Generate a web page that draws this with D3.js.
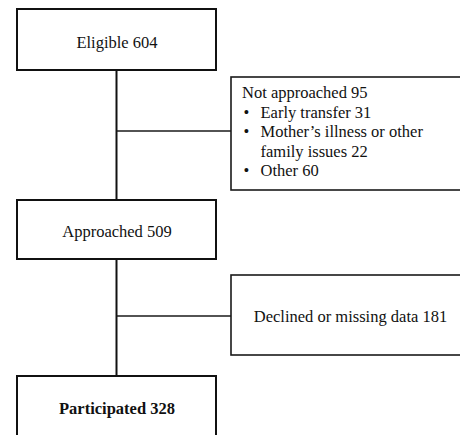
<!DOCTYPE html>
<html>
<head>
<meta charset="utf-8">
<script src="https://cdn.jsdelivr.net/npm/d3@7/dist/d3.min.js"></script>
<style>
  html, body { margin: 0; padding: 0; background: #fff; }
  svg { display: block; }
</style>
</head>
<body>
<script>
// ---- Data ----
const stageLabels = ["Eligible", "Approached", "Participated"];
const stageCounts = [604, 509, 328];
const exclusionLabels = ["Not approached", "Declined or missing data"];
const exclusionCounts = [95, 181];
const reasonLabels = ["Early transfer", "Mother’s illness or other family issues", "Other"];
const reasonCounts = [31, 22, 60];

// ---- Layout ----
const W = 460, H = 435;
const font = "'Liberation Serif', 'Times New Roman', Times, serif";
const fs = 16.5;

const svg = d3.select("body").append("svg").attr("width", W).attr("height", H);

// x positions of the two columns
const xCol = d3.scaleOrdinal().domain(["main", "side"]).range([17, 231]);
const mainW = 199;
const spineX = xCol("main") + mainW / 2;

// stage boxes geometry (top, bottom, text baseline)
const stageTop = d3.scaleOrdinal().domain(stageLabels).range([9, 200, 376]);
const stageBottom = d3.scaleOrdinal().domain(stageLabels).range([70, 259, 440]);
const stageBase = d3.scaleOrdinal().domain(stageLabels).range([48, 237, 414]);

// exclusion boxes
const exTop = d3.scaleOrdinal().domain(exclusionLabels).range([77, 275]);
const exBottom = d3.scaleOrdinal().domain(exclusionLabels).range([190, 355]);
const exJoin = d3.scaleOrdinal().domain(exclusionLabels).range([131, 316]);
const sideRight = 470;

// spine segments between stages
const segs = d3.pairs(stageLabels);
svg.selectAll("line.spine").data(segs).join("line")
  .attr("class", "spine")
  .attr("x1", spineX).attr("x2", spineX)
  .attr("y1", d => stageBottom(d[0]))
  .attr("y2", d => stageTop(d[1]))
  .attr("stroke", "#111").attr("stroke-width", 2);

// horizontal connectors
svg.selectAll("line.conn").data(exclusionLabels).join("line")
  .attr("class", "conn")
  .attr("x1", spineX).attr("x2", xCol("side"))
  .attr("y1", d => exJoin(d)).attr("y2", d => exJoin(d))
  .attr("stroke", "#1a1a1a").attr("stroke-width", 1.5);

// stage boxes
svg.selectAll("rect.stage").data(stageLabels).join("rect")
  .attr("class", "stage")
  .attr("x", xCol("main")).attr("width", mainW)
  .attr("y", d => stageTop(d))
  .attr("height", d => stageBottom(d) - stageTop(d))
  .attr("fill", "#fff").attr("stroke", "#111").attr("stroke-width", 2);

svg.selectAll("text.stage").data(stageLabels).join("text")
  .attr("class", "stage")
  .attr("x", spineX + 0.5)
  .attr("y", d => stageBase(d))
  .attr("text-anchor", "middle")
  .attr("font-family", font).attr("font-size", fs)
  .attr("font-weight", (d, i) => i === stageLabels.length - 1 ? "bold" : "normal")
  .attr("fill", "#111")
  .text((d, i) => `${d} ${stageCounts[i]}`);

// exclusion boxes
svg.selectAll("rect.ex").data(exclusionLabels).join("rect")
  .attr("class", "ex")
  .attr("x", xCol("side")).attr("width", sideRight - xCol("side"))
  .attr("y", d => exTop(d))
  .attr("height", d => exBottom(d) - exTop(d))
  .attr("fill", "#fff").attr("stroke", "#1a1a1a").attr("stroke-width", 1.6);

// first exclusion box: heading + bullet list
const ex0 = exclusionLabels[0];
const lineH = 19.6;
const textX = xCol("side") + 11;
const bulletX = xCol("side") + 12.5;
const indentX = xCol("side") + 29.5;
const maxW = 185;

svg.append("text")
  .attr("x", textX).attr("y", 98)
  .attr("font-family", font).attr("font-size", fs).attr("fill", "#111")
  .text(`${ex0} ${exclusionCounts[0]}`);

let lineIdx = 1;
reasonLabels.forEach((lab, i) => {
  const full = `${lab} ${reasonCounts[i]}`;
  const words = full.split(" ");
  // bullet
  svg.append("text")
    .attr("x", bulletX).attr("y", 98 + lineIdx * lineH)
    .attr("font-family", font).attr("font-size", fs).attr("fill", "#111")
    .text("•");
  let t = svg.append("text")
    .attr("x", indentX).attr("y", 98 + lineIdx * lineH)
    .attr("font-family", font).attr("font-size", fs).attr("fill", "#111");
  let cur = [];
  words.forEach(w => {
    const trial = cur.concat([w]).join(" ");
    t.text(trial);
    if (t.node().getComputedTextLength() > maxW && cur.length) {
      t.text(cur.join(" "));
      lineIdx++;
      t = svg.append("text")
        .attr("x", indentX).attr("y", 98 + lineIdx * lineH)
        .attr("font-family", font).attr("font-size", fs).attr("fill", "#111")
        .text(w);
      cur = [w];
    } else {
      cur.push(w);
    }
  });
  lineIdx++;
});

// second exclusion box text
const ex1 = exclusionLabels[1];
svg.append("text")
  .attr("x", 350.5).attr("y", 322)
  .attr("text-anchor", "middle")
  .attr("font-family", font).attr("font-size", fs).attr("fill", "#111")
  .text(`${ex1} ${exclusionCounts[1]}`);
</script>
</body>
</html>
